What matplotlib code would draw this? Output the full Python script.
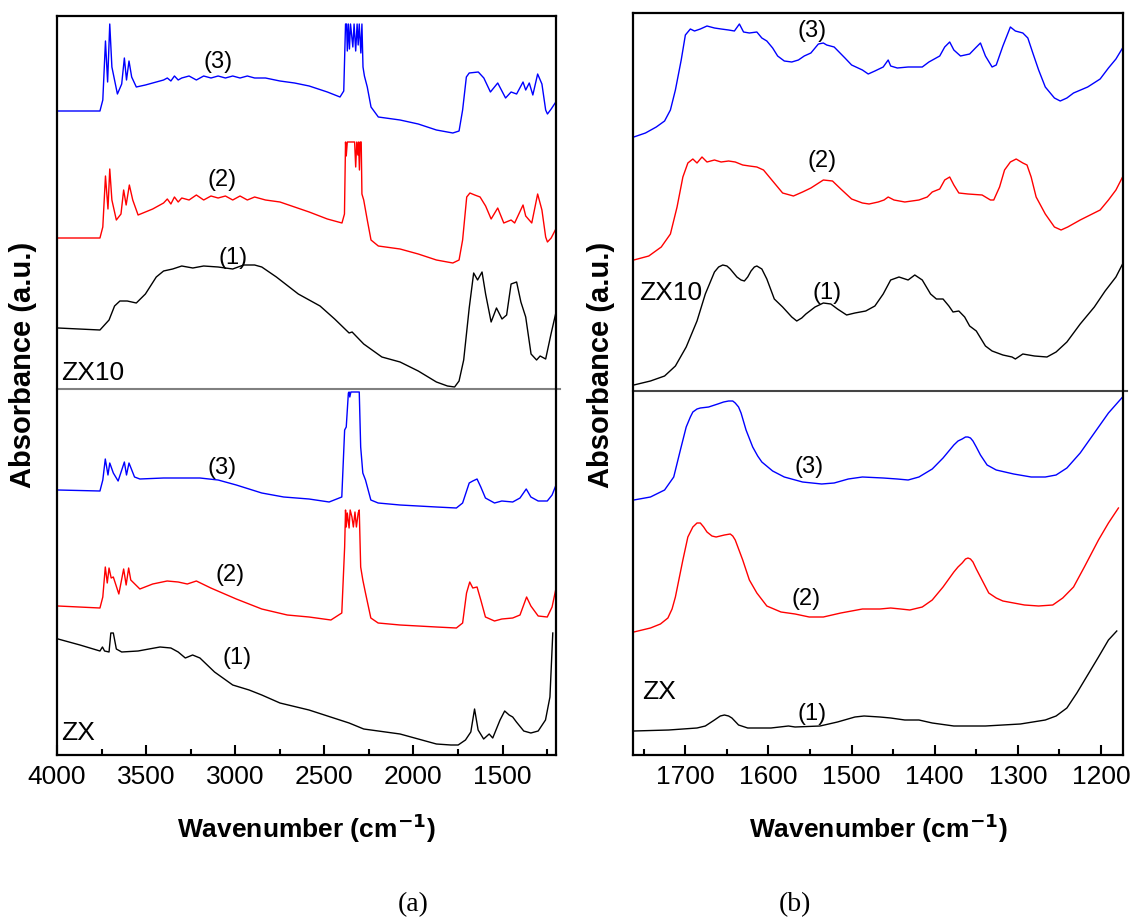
import numpy as np
import matplotlib as mpl
mpl.use('Agg')
import matplotlib.pyplot as plt
from matplotlib.ticker import MultipleLocator

plt.rcParams['font.family'] = ['Liberation Sans', 'DejaVu Sans']

## FTIR spectra, (wavenumber cm-1, absorbance a.u. incl. stacking offset)

# panel (a): full range 4000-1200
a_zx10_3 = [(3994, 6.44), (3759, 6.44), (3743, 6.55), (3728, 7.14), (3716, 6.73), (3704, 7.31),
            (3692, 6.88), (3661, 6.61), (3637, 6.71), (3622, 6.97), (3610, 6.75), (3596, 6.94),
            (3581, 6.78), (3555, 6.68), (3504, 6.70), (3402, 6.75), (3381, 6.77), (3361, 6.74),
            (3341, 6.79), (3320, 6.75), (3300, 6.77), (3259, 6.79), (3218, 6.75), (3177, 6.79),
            (3136, 6.77), (3096, 6.79), (3055, 6.77), (3014, 6.79), (2973, 6.77), (2932, 6.79),
            (2891, 6.77), (2830, 6.77), (2749, 6.74), (2667, 6.72), (2585, 6.69), (2483, 6.63),
            (2412, 6.58), (2391, 6.64), (2381, 7.31), (2375, 7.31), (2371, 7.04), (2365, 7.31),
            (2359, 7.06), (2353, 7.31), (2340, 7.08), (2333, 7.31), (2324, 7.04), (2316, 7.31),
            (2310, 7.10), (2304, 7.31), (2295, 7.02), (2289, 7.31), (2283, 6.88), (2275, 6.79),
            (2259, 6.68), (2238, 6.48), (2197, 6.38), (2075, 6.35), (1973, 6.31), (1871, 6.25),
            (1779, 6.22), (1744, 6.24), (1724, 6.45), (1703, 6.78), (1687, 6.82), (1636, 6.83),
            (1605, 6.77), (1568, 6.63), (1527, 6.72), (1483, 6.57), (1452, 6.63), (1421, 6.61),
            (1385, 6.73), (1370, 6.65), (1350, 6.72), (1330, 6.60), (1303, 6.81), (1279, 6.71),
            (1258, 6.45), (1248, 6.41), (1227, 6.46), (1201, 6.53)]

a_zx10_2 = [(3994, 5.17), (3759, 5.17), (3743, 5.28), (3728, 5.79), (3714, 5.46), (3704, 5.86),
            (3692, 5.55), (3667, 5.35), (3641, 5.41), (3626, 5.65), (3612, 5.50), (3594, 5.70),
            (3575, 5.55), (3545, 5.40), (3463, 5.46), (3402, 5.52), (3381, 5.56), (3361, 5.51),
            (3341, 5.58), (3320, 5.53), (3300, 5.57), (3259, 5.55), (3218, 5.60), (3177, 5.55),
            (3136, 5.59), (3096, 5.57), (3055, 5.59), (3014, 5.55), (2973, 5.59), (2932, 5.55),
            (2891, 5.58), (2830, 5.55), (2749, 5.53), (2667, 5.48), (2585, 5.43), (2483, 5.36),
            (2401, 5.32), (2387, 5.41), (2381, 6.13), (2377, 5.99), (2371, 6.13), (2330, 6.13),
            (2324, 5.88), (2318, 6.13), (2312, 6.00), (2308, 6.13), (2303, 5.85), (2299, 6.13),
            (2293, 6.13), (2289, 5.61), (2279, 5.55), (2259, 5.35), (2238, 5.15), (2197, 5.09),
            (2075, 5.06), (1973, 5.01), (1871, 4.95), (1779, 4.92), (1744, 4.95), (1724, 5.15),
            (1701, 5.58), (1683, 5.62), (1656, 5.60), (1626, 5.58), (1595, 5.49), (1564, 5.36),
            (1527, 5.47), (1493, 5.32), (1452, 5.35), (1432, 5.32), (1385, 5.50), (1370, 5.39),
            (1336, 5.32), (1303, 5.61), (1279, 5.45), (1258, 5.18), (1248, 5.13), (1227, 5.17),
            (1201, 5.26)]

a_zx10_1 = [(3994, 4.27), (3759, 4.25), (3708, 4.35), (3677, 4.49), (3647, 4.54), (3606, 4.54),
            (3555, 4.52), (3504, 4.61), (3443, 4.78), (3402, 4.84), (3351, 4.86), (3300, 4.89),
            (3238, 4.87), (3177, 4.89), (3096, 4.88), (3014, 4.86), (2953, 4.90), (2891, 4.90),
            (2851, 4.88), (2769, 4.78), (2646, 4.61), (2524, 4.49), (2442, 4.36), (2361, 4.22),
            (2344, 4.23), (2279, 4.11), (2177, 3.98), (2075, 3.93), (1973, 3.84), (1871, 3.73),
            (1809, 3.69), (1769, 3.68), (1744, 3.74), (1718, 3.95), (1687, 4.47), (1662, 4.82),
            (1640, 4.75), (1615, 4.83), (1595, 4.61), (1564, 4.33), (1534, 4.47), (1503, 4.36),
            (1477, 4.40), (1452, 4.71), (1421, 4.73), (1397, 4.53), (1370, 4.38), (1340, 4.01),
            (1309, 3.95), (1289, 3.99), (1258, 3.96), (1228, 4.21), (1201, 4.42)]

a_zx_3 = [(3994, 2.65), (3759, 2.64), (3743, 2.75), (3729, 2.96), (3714, 2.80), (3704, 2.92),
          (3684, 2.82), (3657, 2.74), (3622, 2.93), (3610, 2.80), (3596, 2.92), (3565, 2.78),
          (3535, 2.76), (3402, 2.77), (3198, 2.77), (3096, 2.75), (2994, 2.70), (2851, 2.62),
          (2728, 2.58), (2586, 2.56), (2473, 2.53), (2402, 2.58), (2386, 3.25), (2377, 3.28),
          (2365, 3.62), (2361, 3.63), (2357, 3.58), (2351, 3.63), (2304, 3.63), (2296, 3.08),
          (2284, 2.82), (2269, 2.75), (2239, 2.55), (2198, 2.52), (2075, 2.50), (1871, 2.48),
          (1759, 2.47), (1724, 2.52), (1687, 2.72), (1667, 2.74), (1643, 2.76), (1622, 2.68),
          (1596, 2.57), (1545, 2.52), (1504, 2.54), (1443, 2.53), (1402, 2.57), (1367, 2.66),
          (1341, 2.58), (1300, 2.54), (1249, 2.54), (1222, 2.60), (1202, 2.69)]

a_zx_2 = [(3994, 1.49), (3759, 1.47), (3743, 1.58), (3729, 1.88), (3718, 1.72), (3708, 1.87),
          (3696, 1.77), (3684, 1.78), (3653, 1.61), (3626, 1.86), (3612, 1.70), (3598, 1.87),
          (3586, 1.75), (3535, 1.66), (3463, 1.71), (3382, 1.74), (3320, 1.73), (3269, 1.71),
          (3218, 1.74), (3137, 1.67), (2994, 1.56), (2851, 1.46), (2708, 1.40), (2586, 1.38),
          (2463, 1.35), (2402, 1.42), (2386, 2.08), (2381, 2.45), (2377, 2.28), (2371, 2.42),
          (2361, 2.27), (2355, 2.45), (2345, 2.38), (2337, 2.28), (2328, 2.43), (2320, 2.28),
          (2310, 2.42), (2304, 2.45), (2296, 1.88), (2284, 1.75), (2269, 1.62), (2239, 1.37),
          (2198, 1.32), (2075, 1.30), (1871, 1.28), (1759, 1.27), (1724, 1.32), (1702, 1.62),
          (1684, 1.73), (1667, 1.67), (1643, 1.68), (1622, 1.55), (1596, 1.38), (1545, 1.34),
          (1504, 1.36), (1443, 1.37), (1402, 1.40), (1365, 1.58), (1341, 1.49), (1300, 1.39),
          (1249, 1.38), (1222, 1.48), (1202, 1.65)]

a_zx_1 = [(3994, 1.16), (3871, 1.10), (3759, 1.04), (3745, 1.08), (3733, 1.04), (3708, 1.03),
          (3698, 1.22), (3684, 1.22), (3667, 1.06), (3637, 1.03), (3545, 1.04), (3484, 1.06),
          (3422, 1.08), (3361, 1.07), (3320, 1.03), (3280, 0.97), (3239, 1.00), (3198, 0.97),
          (3116, 0.83), (3014, 0.70), (2922, 0.65), (2851, 0.60), (2749, 0.52), (2586, 0.45),
          (2361, 0.32), (2279, 0.26), (2075, 0.21), (1871, 0.11), (1790, 0.10), (1749, 0.10),
          (1708, 0.15), (1678, 0.23), (1657, 0.46), (1637, 0.25), (1606, 0.16), (1575, 0.21),
          (1555, 0.17), (1514, 0.35), (1488, 0.44), (1463, 0.40), (1443, 0.38), (1422, 0.33),
          (1381, 0.24), (1341, 0.22), (1300, 0.24), (1259, 0.35), (1234, 0.58), (1218, 1.22)]

# panel (b): 1760-1175 detail
b_zx10_3 = [(1762, 6.18), (1748, 6.22), (1735, 6.28), (1725, 6.34), (1718, 6.45), (1712, 6.65),
            (1705, 6.95), (1700, 7.20), (1694, 7.26), (1689, 7.24), (1682, 7.26), (1674, 7.29),
            (1665, 7.27), (1657, 7.26), (1648, 7.25), (1641, 7.24), (1635, 7.31), (1630, 7.23),
            (1623, 7.22), (1614, 7.23), (1608, 7.17), (1602, 7.14), (1595, 7.07), (1589, 6.99),
            (1581, 6.94), (1572, 6.93), (1564, 6.95), (1557, 6.99), (1549, 7.02), (1540, 7.11),
            (1534, 7.12), (1530, 7.10), (1521, 7.08), (1508, 6.97), (1500, 6.90), (1487, 6.85),
            (1480, 6.81), (1472, 6.84), (1462, 6.88), (1456, 6.95), (1453, 6.89), (1445, 6.87),
            (1432, 6.88), (1415, 6.88), (1407, 6.93), (1394, 6.99), (1388, 7.08), (1382, 7.13),
            (1377, 7.05), (1369, 6.99), (1358, 7.01), (1351, 7.07), (1345, 7.12), (1339, 6.99),
            (1331, 6.88), (1326, 6.90), (1318, 7.09), (1309, 7.28), (1303, 7.24), (1294, 7.22),
            (1288, 7.17), (1282, 7.02), (1275, 6.85), (1267, 6.68), (1256, 6.57), (1249, 6.54),
            (1241, 6.57), (1233, 6.62), (1216, 6.68), (1201, 6.76), (1191, 6.87), (1182, 6.96),
            (1174, 7.07)]

b_zx10_2 = [(1762, 4.95), (1744, 4.99), (1729, 5.08), (1718, 5.21), (1710, 5.48), (1703, 5.78),
            (1697, 5.92), (1691, 5.96), (1686, 5.92), (1680, 5.98), (1674, 5.93), (1665, 5.95),
            (1657, 5.93), (1648, 5.94), (1640, 5.93), (1631, 5.90), (1623, 5.89), (1614, 5.88),
            (1606, 5.85), (1593, 5.72), (1583, 5.62), (1570, 5.59), (1559, 5.63), (1549, 5.67),
            (1534, 5.75), (1523, 5.74), (1513, 5.66), (1500, 5.56), (1487, 5.52), (1479, 5.51),
            (1468, 5.53), (1461, 5.55), (1456, 5.58), (1449, 5.55), (1436, 5.53), (1419, 5.55),
            (1409, 5.58), (1403, 5.63), (1394, 5.66), (1388, 5.75), (1382, 5.78), (1377, 5.70),
            (1371, 5.62), (1360, 5.61), (1343, 5.60), (1333, 5.55), (1329, 5.55), (1322, 5.68),
            (1316, 5.85), (1309, 5.93), (1302, 5.96), (1294, 5.92), (1289, 5.90), (1284, 5.78),
            (1278, 5.58), (1267, 5.41), (1256, 5.28), (1248, 5.25), (1240, 5.28), (1225, 5.35),
            (1201, 5.45), (1191, 5.55), (1182, 5.65), (1174, 5.78)]

b_zx10_1 = [(1762, 3.70), (1742, 3.74), (1725, 3.79), (1712, 3.89), (1699, 4.08), (1686, 4.34),
            (1676, 4.61), (1665, 4.83), (1660, 4.88), (1655, 4.90), (1650, 4.89), (1646, 4.86),
            (1638, 4.78), (1633, 4.75), (1629, 4.74), (1625, 4.78), (1621, 4.84), (1617, 4.88),
            (1614, 4.89), (1608, 4.86), (1602, 4.76), (1593, 4.56), (1583, 4.48), (1572, 4.38),
            (1566, 4.34), (1560, 4.37), (1555, 4.41), (1544, 4.48), (1534, 4.52), (1525, 4.51),
            (1517, 4.46), (1506, 4.40), (1496, 4.42), (1483, 4.44), (1472, 4.49), (1462, 4.61),
            (1453, 4.75), (1443, 4.78), (1432, 4.75), (1424, 4.80), (1415, 4.75), (1405, 4.61),
            (1398, 4.56), (1390, 4.56), (1383, 4.49), (1378, 4.43), (1371, 4.44), (1364, 4.38),
            (1358, 4.29), (1350, 4.24), (1339, 4.09), (1331, 4.04), (1318, 4.00), (1307, 3.98),
            (1303, 3.96), (1294, 4.01), (1280, 3.99), (1265, 3.98), (1254, 4.03), (1241, 4.13),
            (1225, 4.31), (1208, 4.48), (1195, 4.64), (1182, 4.78), (1174, 4.91)]

b_zx_3 = [(1762, 2.55), (1742, 2.58), (1725, 2.65), (1714, 2.78), (1706, 3.05), (1699, 3.28),
          (1694, 3.38), (1691, 3.43), (1686, 3.46), (1682, 3.47), (1672, 3.48), (1661, 3.51),
          (1654, 3.53), (1648, 3.54), (1643, 3.54), (1640, 3.52), (1636, 3.48), (1633, 3.42),
          (1627, 3.25), (1619, 3.08), (1613, 2.99), (1608, 2.93), (1595, 2.84), (1581, 2.78),
          (1559, 2.73), (1536, 2.71), (1521, 2.72), (1504, 2.76), (1487, 2.78), (1462, 2.77),
          (1445, 2.76), (1432, 2.75), (1419, 2.78), (1403, 2.86), (1390, 2.97), (1377, 3.10),
          (1372, 3.14), (1367, 3.16), (1363, 3.18), (1360, 3.18), (1357, 3.17), (1354, 3.14),
          (1350, 3.08), (1345, 3.00), (1337, 2.90), (1326, 2.85), (1305, 2.81), (1284, 2.78),
          (1267, 2.78), (1254, 2.80), (1241, 2.87), (1225, 3.02), (1208, 3.22), (1191, 3.42),
          (1174, 3.58)]

b_zx_2 = [(1762, 1.23), (1742, 1.27), (1730, 1.31), (1721, 1.37), (1716, 1.46), (1712, 1.58),
          (1703, 1.95), (1697, 2.18), (1691, 2.28), (1686, 2.32), (1682, 2.32), (1678, 2.28),
          (1674, 2.23), (1668, 2.19), (1663, 2.18), (1653, 2.20), (1646, 2.21), (1643, 2.19),
          (1640, 2.15), (1631, 1.95), (1623, 1.75), (1614, 1.62), (1602, 1.49), (1585, 1.43),
          (1568, 1.41), (1551, 1.38), (1534, 1.38), (1513, 1.42), (1487, 1.46), (1466, 1.46),
          (1453, 1.47), (1441, 1.46), (1430, 1.45), (1415, 1.48), (1403, 1.55), (1390, 1.68),
          (1377, 1.83), (1372, 1.88), (1367, 1.92), (1363, 1.96), (1360, 1.97), (1357, 1.96),
          (1354, 1.93), (1350, 1.86), (1345, 1.78), (1335, 1.62), (1326, 1.57), (1318, 1.54),
          (1292, 1.50), (1275, 1.49), (1258, 1.50), (1246, 1.57), (1233, 1.68), (1220, 1.88),
          (1203, 2.15), (1191, 2.32), (1179, 2.47)]

b_zx_1 = [(1762, 0.24), (1720, 0.25), (1686, 0.27), (1676, 0.29), (1665, 0.35), (1658, 0.39),
          (1653, 0.40), (1648, 0.39), (1644, 0.37), (1636, 0.30), (1625, 0.27), (1597, 0.27),
          (1576, 0.29), (1568, 0.28), (1538, 0.29), (1517, 0.33), (1496, 0.38), (1485, 0.39),
          (1466, 0.38), (1453, 0.37), (1436, 0.35), (1419, 0.35), (1403, 0.32), (1377, 0.29),
          (1339, 0.29), (1297, 0.31), (1267, 0.35), (1254, 0.39), (1241, 0.47), (1229, 0.62),
          (1216, 0.80), (1203, 0.98), (1191, 1.15), (1181, 1.24)]

colors = ['black', 'red', 'blue']

# curve labels (1)/(2)/(3): (wavenumber, height)
a_marks = [(3011, 4.97), (3073, 5.75), (3096, 6.93), (2989, 0.97), (3028, 1.80), (3073, 2.87)]
b_marks = [(1530, 4.62), (1536, 5.94), (1547, 7.24), (1547, 0.41), (1555, 1.56), (1551, 2.88)]


def draw_panel(ax, curves, marks, sep, ylim, xlim, major, minor, sep_color):
    for spec, c in zip(curves, colors + colors):
        arr = np.array(spec)
        ax.plot(arr[:, 0], arr[:, 1], color=c, lw=1.0)
    for i, (w, h) in enumerate(marks):
        ax.text(w, h, '(%d)' % (i % 3 + 1), ha='center', va='center', fontsize=17)
    ax.set_xlim(*xlim)
    ax.set_ylim(*ylim)
    ax.axhline(sep, color=sep_color, lw=1.5, xmax=1.008, clip_on=False)
    ax.xaxis.set_major_locator(MultipleLocator(major))
    ax.xaxis.set_minor_locator(MultipleLocator(minor))
    ax.tick_params(axis='x', which='both', direction='in', width=1.5, labelsize=19, pad=7)
    ax.tick_params(axis='x', which='major', length=7)
    ax.tick_params(axis='x', which='minor', length=4)
    ax.set_yticks([])
    for s in ax.spines.values():
        s.set_linewidth(1.6)


fig = plt.figure(figsize=(11.32, 9.21), dpi=100)
ax_a = fig.add_axes([57 / 1132, 166 / 921, 499 / 1132, 739 / 921])
ax_b = fig.add_axes([633 / 1132, 166 / 921, 490 / 1132, 742 / 921])

draw_panel(ax_a, [a_zx10_1, a_zx10_2, a_zx10_3, a_zx_1, a_zx_2, a_zx_3], a_marks,
           3.66, (0, 7.39), (4000, 1200), 500, 250, '#808080')
draw_panel(ax_b, [b_zx10_1, b_zx10_2, b_zx10_3, b_zx_1, b_zx_2, b_zx_3], b_marks,
           3.64, (0, 7.42), (1763, 1173.5), 100, 50, '#444444')

ax_a.text(3975, 3.82, 'ZX10', ha='left', va='center', fontsize=19)
ax_a.text(3975, 0.22, 'ZX', ha='left', va='center', fontsize=19)
ax_b.text(1756, 4.62, 'ZX10', ha='left', va='center', fontsize=19)
ax_b.text(1752, 0.63, 'ZX', ha='left', va='center', fontsize=19)

for xc in (23, 601):
    fig.text(xc / 1132, 1 - 365 / 921, 'Absorbance (a.u.)', rotation=90, ha='center',
             va='center', fontsize=21, fontweight='bold')
for xc in (306, 878):
    fig.text(xc / 1132, 1 - 838 / 921, r'Wavenumber (cm$^{\mathbf{-1}}$)', ha='center',
             va='baseline', fontsize=19, fontweight='bold')

fig.text(413 / 1132, 1 - 905 / 921, '(a)', ha='center', va='center', fontsize=20,
         family='Liberation Serif')
fig.text(795 / 1132, 1 - 905 / 921, '(b)', ha='center', va='center', fontsize=20,
         family='Liberation Serif')

fig.savefig('out.png', dpi=100)
